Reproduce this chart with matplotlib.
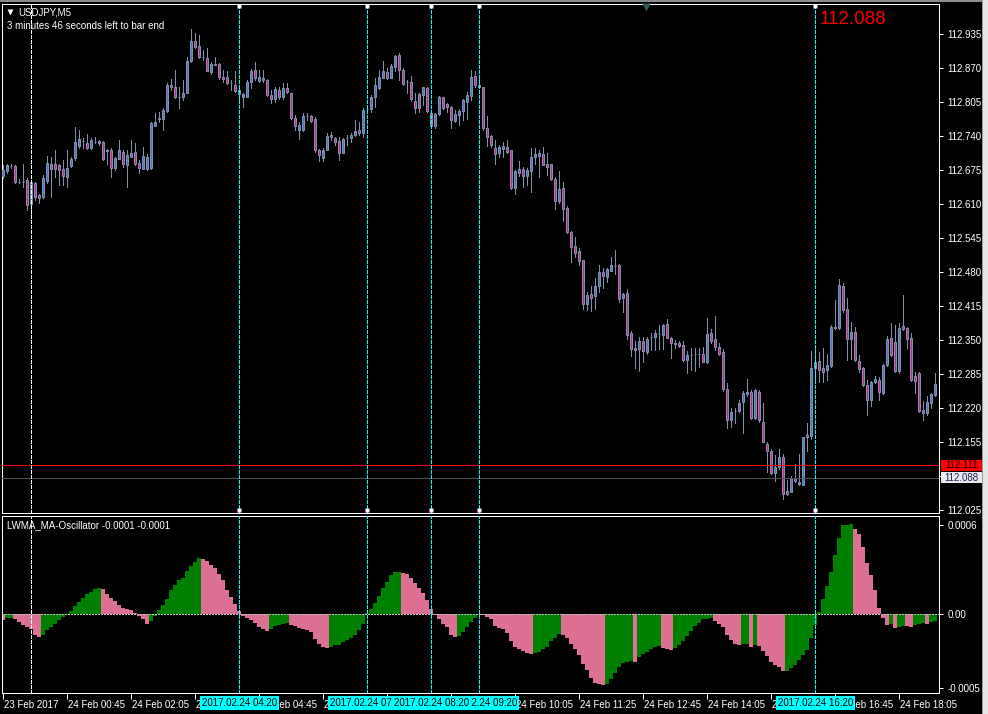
import numpy as np
import matplotlib
matplotlib.use("Agg")
import matplotlib.pyplot as plt
import matplotlib.transforms as mtransforms
from matplotlib.patches import Rectangle

# ---------------- data ----------------
BASE = 112.0  # prices below are thousandths above 112.000
open_milli = [665,673,683,683,653,653,657,611,651,628,625,655,677,687,685,677,663,684,698,722,
              732,728,717,730,731,730,712,714,679,696,711,685,701,711,690,677,678,679,760,776,
              773,788,839,834,816,816,823,884,923,913,891,890,862,876,878,853,853,841,839,829,
              816,816,844,866,846,847,848,819,811,829,815,832,822,776,752,753,778,778,774,714,
              698,714,743,736,731,709,737,737,743,752,746,793,793,815,832,852,863,852,873,896,
              867,843,843,808,795,819,832,784,760,783,815,801,797,770,781,788,806,818,855,839,
              834,755,741,718,709,716,720,713,641,669,678,664,674,701,703,706,688,687,659,617,
              641,604,558,531,521,504,420,439,434,454,481,472,483,493,494,432,441,364,335,333,
              349,327,356,356,362,360,381,354,346,346,341,313,322,324,325,325,308,364,352,338,
              327,257,198,215,215,233,248,252,201,252,195,152,139,97,109,128,62,61,88,75,
              74,165,167,297,310,297,294,302,373,373,454,410,352,367,311,297,265,236,271,274,
              250,303,354,347,292,378,373,354,282,287,217,211,230,246]
close_milli = [676,685,683,653,653,652,609,653,625,623,661,690,688,677,676,665,679,696,730,734,
               731,717,733,730,727,696,714,679,698,714,687,704,709,688,679,702,700,765,768,773,
               790,838,834,816,816,823,884,923,911,891,891,865,878,878,853,849,841,841,827,821,
               821,844,864,851,853,851,819,811,830,816,832,825,776,760,762,778,778,770,713,704,
               714,741,738,730,709,734,737,743,750,746,790,793,815,838,853,865,852,874,894,866,
               840,843,811,795,820,834,789,760,782,815,795,797,771,782,788,809,819,853,839,834,
               755,738,723,706,720,722,711,641,674,678,664,676,701,707,709,686,682,658,617,639,
               601,557,529,518,501,419,437,432,454,480,473,487,494,493,429,439,360,334,331,349,
               329,352,356,364,362,380,354,346,343,339,313,322,322,324,325,308,362,348,337,324,
               257,198,214,215,231,250,252,202,255,198,155,138,97,109,127,57,57,87,82,79,
               165,169,297,308,294,290,303,375,375,456,408,352,367,313,295,265,237,271,276,252,
               303,353,322,292,373,371,352,274,273,216,211,233,247,266]
high_milli = [685,688,687,685,658,688,660,657,653,630,666,702,701,714,688,695,714,701,758,752,
              736,744,736,739,733,731,715,717,701,733,714,713,733,727,695,720,706,768,785,787,
              794,841,850,867,835,848,892,946,937,934,905,908,883,892,880,866,864,848,864,835,
              822,848,868,883,867,867,849,829,834,835,841,841,822,781,768,784,784,781,777,716,
              717,746,749,739,739,736,743,746,771,768,795,797,819,851,867,884,870,878,896,900,
              870,848,855,822,822,835,834,787,784,817,816,804,798,790,793,811,825,867,865,854,
              835,778,742,733,723,730,733,714,676,693,682,679,717,717,714,719,708,688,663,673,
              652,606,560,547,526,504,443,454,470,494,488,488,509,523,496,441,448,368,349,357,
              356,357,364,370,380,381,390,356,351,348,348,329,335,335,335,337,392,371,397,345,
              333,268,220,220,236,254,276,255,257,255,230,155,142,131,142,133,83,91,114,133,
              166,193,329,341,327,335,325,380,427,467,460,432,386,376,322,299,274,273,282,280,
              305,359,383,380,383,437,376,364,290,290,234,243,250,287]
low_milli = [660,669,679,650,650,644,599,586,618,612,623,651,625,663,647,647,644,682,695,717,
             717,715,715,727,723,695,688,663,676,696,682,643,701,685,669,677,676,677,759,768,
             752,787,829,813,795,810,822,883,908,889,886,864,859,876,849,843,840,829,825,809,
             797,815,832,848,843,844,817,804,806,811,812,822,774,752,734,751,771,768,711,692,
             692,713,733,723,695,709,723,730,741,743,739,790,787,796,830,851,850,851,864,848,
             838,822,808,785,787,800,787,757,755,781,792,787,755,768,762,771,774,810,834,832,
             753,722,720,688,700,700,709,639,629,664,643,647,634,688,662,685,666,657,602,612,
             579,555,499,509,494,410,408,407,410,443,451,462,483,477,424,405,353,320,298,292,
             308,325,332,332,333,333,354,316,335,338,311,288,294,292,300,308,306,345,332,322,
             254,182,184,193,213,173,243,199,199,195,155,99,95,82,104,46,55,60,80,73,
             73,139,161,271,271,271,274,300,371,371,405,313,314,310,290,262,208,225,269,237,
             248,301,320,290,288,370,335,273,250,214,198,207,220,243]

# LWMA_MA-Oscillator histogram, in units of 0.0001
osc_e4 = [-0.38,-0.30,-0.28,-0.36,-0.54,-0.72,-0.90,-1.03,-1.39,-1.55,-1.43,-1.10,-0.87,-0.65,-0.43,-0.22,-0.05,0.18,0.54,0.81,
          1.08,1.37,1.48,1.66,1.73,1.66,1.37,1.08,0.85,0.58,0.40,0.34,0.25,0.07,-0.13,-0.31,-0.65,-0.45,-0.13,0.25,
          0.58,1.03,1.59,1.97,2.31,2.42,2.87,3.21,3.50,3.77,3.72,3.59,3.32,3.09,2.71,2.26,1.59,1.14,0.70,0.22,
          -0.13,-0.27,-0.43,-0.63,-0.87,-1.03,-1.12,-1.03,-0.83,-0.76,-0.67,-0.61,-0.72,-0.81,-0.94,-1.03,-1.10,-1.21,-1.66,-2.00,
          -2.20,-2.30,-2.22,-2.11,-2.06,-1.88,-1.75,-1.61,-1.43,-1.10,-0.65,0.09,0.36,0.76,1.21,1.75,2.15,2.65,2.83,2.85,
          2.76,2.69,2.42,2.09,1.75,1.43,0.92,0.31,-0.09,-0.31,-0.65,-0.87,-1.38,-1.52,-1.48,-1.21,-0.87,-0.54,-0.27,-0.05,
          -0.09,-0.22,-0.36,-0.81,-0.94,-1.03,-1.26,-1.84,-2.22,-2.38,-2.51,-2.62,-2.67,-2.65,-2.56,-2.38,-2.22,-1.84,-1.61,-1.32,
          -1.39,-1.61,-2.00,-2.38,-2.74,-3.34,-3.79,-4.30,-4.66,-4.71,-4.75,-4.69,-4.35,-3.95,-3.59,-3.27,-3.23,-3.18,-3.21,-2.91,
          -2.67,-2.56,-2.38,-2.22,-2.15,-2.29,-2.38,-2.40,-2.29,-2.11,-1.84,-1.48,-1.17,-0.81,-0.58,-0.36,-0.33,-0.30,-0.45,-0.65,
          -0.87,-1.39,-1.77,-2.00,-2.06,-2.02,-2.01,-2.22,-2.06,-2.15,-2.51,-2.83,-3.23,-3.45,-3.57,-3.86,-3.84,-3.63,-3.41,-3.12,
          -2.78,-2.44,-1.61,-0.76,0.13,0.99,1.88,2.83,3.99,5.11,5.96,6.01,6.02,5.74,5.40,4.51,3.45,2.60,1.59,0.40,
          -0.27,-0.72,-0.70,-0.94,-0.85,-0.80,-0.81,-0.85,-0.72,-0.65,-0.60,-0.66,-0.52,-0.45]

price_ticks = [112.025, 112.090, 112.155, 112.220, 112.285, 112.350, 112.415, 112.480,
               112.545, 112.610, 112.675, 112.740, 112.805, 112.870, 112.935]
price_tick_labels = ["112.025", "112.090", "112.155", "112.220", "112.285", "112.350", "112.415", "112.480",
                     "112.545", "112.610", "112.675", "112.740", "112.805", "112.870", "112.935"]
osc_ticks = [0.0006, 0.0, -0.0005]
osc_tick_labels = ["0.0006", "0.00", "-0.0005"]

time_tick_bars = [0, 16, 32, 48, 64, 80, 96, 112, 128, 144, 160, 176, 192, 208, 224]
time_tick_labels = ["23 Feb 2017", "24 Feb 00:45", "24 Feb 02:05", "24 Feb 03:25", "24 Feb 04:45",
                    "24 Feb 06:05", "24 Feb 07:25", "24 Feb 08:45", "24 Feb 10:05", "24 Feb 11:25",
                    "24 Feb 12:45", "24 Feb 14:05", "24 Feb 15:25", "24 Feb 16:45", "24 Feb 18:05"]
# labels fully covered by other labels in the terminal (not visible at all)
covered_time_labels = ["24 Feb 07:25", "24 Feb 08:45"]
covered_price_labels = ["112.090"]

separator_bar = 7  # 24 Feb 00:00
vline_bars = [59, 91, 119, 107, 203]          # drawing order (08:20 label on top)
vline_labels = ["2017.02.24 04:20", "2017.02.24 07:00", "2017.02.24 09:20",
                "2017.02.24 08:20", "2017.02.24 16:20"]
red_level = 112.111
grey_level = 112.088
symbol_text = "USDJPY,M5"
timer_text = "3 minutes 46 seconds left to bar end"
osc_title = "LWMA_MA-Oscillator -0.0001 -0.0001"
big_price_text = "112.088"

# ---------------- figure ----------------
W, H = 988, 714
plt.rcParams['font.family'] = ['Liberation Sans', 'DejaVu Sans']
fig = plt.figure(figsize=(W / 100, H / 100), dpi=100, facecolor='black')

def fig_rect(x0, y0, x1, y1):
    return [x0 / W, 1 - y1 / H, (x1 - x0) / W, (y1 - y0) / H]

ax = fig.add_axes(fig_rect(2, 4, 939, 513))
axo = fig.add_axes(fig_rect(2, 516, 939, 693), sharex=ax)

PX = 0.72  # one pixel in points
for a in (ax, axo):
    a.set_facecolor('black')
    for s in a.spines.values():
        s.set_color('white')
        s.set_linewidth(PX)

O = BASE + np.array(open_milli) / 1000.0
C = BASE + np.array(close_milli) / 1000.0
Hh = BASE + np.array(high_milli) / 1000.0
L = BASE + np.array(low_milli) / 1000.0
N = len(O)
x = np.arange(N)

ax.set_xlim(-0.325, 233.925)
ax.set_ylim(112.0202, 112.9929)

wick_col = '#8290AC'
bull_col = '#5272C6'
bear_col = '#C8288C'
ax.vlines(x, L, Hh, color=wick_col, lw=PX, zorder=2, antialiased=False)
up = C >= O
bottoms = np.minimum(O, C)
heights = np.abs(C - O)
ax.bar(x, heights, bottom=bottoms, width=0.5,
       color=np.where(up, bull_col, bear_col), edgecolor=wick_col,
       linewidth=PX, zorder=3)

# horizontal levels
ax.axhline(red_level, color='#FF0000', lw=PX, zorder=4, antialiased=False)
ax.axhline(grey_level, color='#4A5656', lw=PX, zorder=4, antialiased=False)

# oscillator
osc = np.array(osc_e4) * 1e-4
prev = np.concatenate([[osc[0] + 1], osc[:-1]])
osc_cols = np.where(osc > prev, '#008000', '#DB7093')
axo.bar(x, osc, width=1.0, color=osc_cols, linewidth=0, antialiased=False, zorder=2)
axo.set_ylim(-5.31e-4, 6.59e-4)
axo.axhline(0, color='#C0C0C0', lw=PX, ls=(0, (2, 2)), zorder=3, antialiased=False)

# vertical lines
for a in (ax, axo):
    a.axvline(separator_bar, color='white', lw=PX, ls=(0, (3, 2)), zorder=5, antialiased=False)
    for b in vline_bars:
        a.axvline(b, color='#00FFFF', lw=PX, ls=(0, (3, 2)), zorder=5, antialiased=False)

blend_main = mtransforms.blended_transform_factory(ax.transData, ax.transAxes)
for b in vline_bars:
    ax.plot([b], [0.996], marker='s', ms=2.6, color='white', mec='none',
            transform=blend_main, clip_on=False, zorder=6)
    ax.plot([b], [0.005], marker='s', ms=2.6, color='white', mec='none',
            transform=blend_main, clip_on=False, zorder=6)

# axes ticks
ax.yaxis.tick_right()
ax.set_yticks(price_ticks)
ax.set_yticklabels(price_tick_labels)
ax.tick_params(axis='y', colors='white', length=3, width=PX, pad=3, labelsize=7)
ax.tick_params(axis='x', bottom=False, labelbottom=False)
for lab in ax.get_yticklabels():
    if lab.get_text() in covered_price_labels:
        lab.set_visible(False)

axo.yaxis.tick_right()
axo.set_yticks(osc_ticks)
axo.set_yticklabels(osc_tick_labels)
axo.tick_params(axis='y', colors='white', length=3, width=PX, pad=3, labelsize=7)
axo.set_xticks(time_tick_bars)
axo.set_xticklabels(time_tick_labels)
axo.tick_params(axis='x', colors='white', length=4, width=PX, pad=1, labelsize=7)
shift = mtransforms.ScaledTranslation(1 / 100, 0, fig.dpi_scale_trans)
for lab in axo.get_xticklabels():
    lab.set_horizontalalignment('left')
    lab.set_transform(lab.get_transform() + shift)
    if lab.get_text() in covered_time_labels:
        lab.set_visible(False)

# cyan time labels under the vertical lines
blend_osc = mtransforms.blended_transform_factory(axo.transData, axo.transAxes)
for k, (b, t) in enumerate(zip(vline_bars, vline_labels)):
    axo.text(b, -0.057, t, transform=blend_osc, ha='center', va='center',
             fontsize=7, color='black', clip_on=False, zorder=10 + k,
             bbox=dict(boxstyle='square,pad=0.22', fc='#00FFFF', ec='none'))

# price boxes on the right axis
blend_py = mtransforms.blended_transform_factory(ax.transAxes, ax.transData)
for lvl, fc, tc in ((red_level, '#FF0000', '#200000'), (grey_level, '#E8E8F2', '#1C2448')):
    ax.add_patch(Rectangle((1.0021, lvl - 0.0104), 0.0438, 0.0208, transform=blend_py,
                           fc=fc, ec='none', clip_on=False, zorder=8))
    ax.text(1.0240, lvl, f"{lvl:.3f}", transform=blend_py, ha='center', va='center',
            fontsize=7, color=tc, clip_on=False, zorder=9)

# chart texts
ax.text(0.0171, 0.983, symbol_text, transform=ax.transAxes, ha='left', va='center',
        fontsize=7, color='white')
ax.plot([0.0085], [0.9835], marker='v', ms=4.5, color='white', mec='none',
        transform=ax.transAxes, clip_on=False)
ax.text(0.0053, 0.957, timer_text, transform=ax.transAxes, ha='left', va='center',
        fontsize=7, color='white')
ax.text(0.873, 0.9705, big_price_text, transform=ax.transAxes, ha='left', va='center',
        fontsize=13.5, color='#FF0000')
ax.plot([0.6873], [0.994], marker='v', ms=6, color='#2F5A5A', mec='none',
        transform=ax.transAxes, clip_on=False, zorder=6)
axo.text(0.0053, 0.951, osc_title, transform=axo.transAxes, ha='left', va='center',
         fontsize=7, color='white')

# window decorations
fig.patches.append(Rectangle((0, 1 - 2.3 / H), 1, 2.3 / H, transform=fig.transFigure,
                             fc='#8C8C8C', ec='none'))
fig.patches.append(Rectangle((981.5 / W, 0), 6.5 / W, 1, transform=fig.transFigure,
                             fc='#E6E6E6', ec='none'))
fig.patches.append(Rectangle((981.5 / W, 0), 1.2 / W, 1, transform=fig.transFigure,
                             fc='#9A9A9A', ec='none'))

fig.savefig('out.png', dpi=100, facecolor='black')
